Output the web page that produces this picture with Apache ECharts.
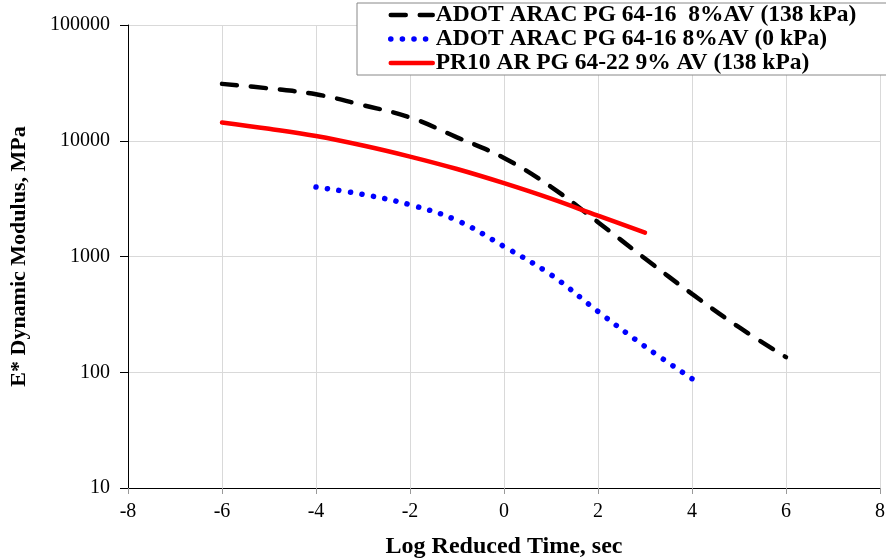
<!DOCTYPE html>
<html>
<head>
<meta charset="utf-8">
<script src="https://cdn.jsdelivr.net/npm/echarts@6/dist/echarts.min.js"></script>
<style>
html,body{margin:0;padding:0;background:#fff;}
#chart{width:886px;height:559px;}
</style>
</head>
<body>
<div id="chart"></div>
<script>
const seriesNames = [
  'ADOT ARAC PG 64-16  8%AV (138 kPa)',
  'ADOT ARAC PG 64-16 8%AV (0 kPa)',
  'PR10 AR PG 64-22 9% AV (138 kPa)'
];
const xBlack = [-6, -5, -4, -3, -2, -1, 0, 1, 2, 3, 4, 5, 6];
const yBlack = [31000, 28300, 25200, 20300, 15900, 10700, 7100, 4000, 1980, 960, 475, 245, 135];
const xBlue = [-4, -3, -2, -1, 0, 1, 2, 3, 4];
const yBlue = [3980, 3440, 2800, 2050, 1220, 695, 335, 167, 88];
const xRed = [-6, -5, -4, -3, -2, -1, 0, 1, 2, 3];
const yRed = [14400, 12700, 11000, 9100, 7300, 5700, 4300, 3160, 2250, 1610];
const yTicks = [10, 100, 1000, 10000, 100000];
const xTicks = [-8, -6, -4, -2, 0, 2, 4, 6, 8];

const pair = (xs, ys) => xs.map((x, i) => [x, ys[i]]);
const serif = '"Liberation Serif", "Times New Roman", serif';

const lineStyles = [
  {color: '#000', width: 4.5, type: [15, 14], cap: 'round'},
  {color: '#0000ff', width: 5.5, type: [0.1, 11.5], cap: 'round'},
  {color: '#ff0000', width: 4.5, type: 'solid', cap: 'round'}
];

const chart = echarts.init(document.getElementById('chart'), null, {renderer: 'canvas'});
chart.setOption({
  animation: false,
  backgroundColor: '#fff',
  grid: {left: 128, right: 6, top: 25, bottom: 71, containLabel: false, outerBoundsMode: 'none'},
  legend: {
    orient: 'vertical',
    left: 357,
    top: 3,
    itemGap: 0,
    itemWidth: 42,
    itemHeight: 14,
    padding: [0, 60, 0, 31],
    backgroundColor: '#fff',
    borderColor: '#888',
    borderWidth: 1,
    borderRadius: 0,
    itemStyle: {opacity: 0},
    textStyle: {fontFamily: serif, fontWeight: 'bold', fontSize: 23.5, lineHeight: 23.2, color: '#000', padding: [0, 0, 0, -2]},
    data: seriesNames.map((n, i) => ({name: n, lineStyle: lineStyles[i]}))
  },
  xAxis: {
    type: 'value',
    min: xTicks[0],
    max: xTicks[xTicks.length - 1],
    interval: 2,
    name: 'Log Reduced Time, sec',
    nameLocation: 'middle',
    nameGap: 47,
    nameTextStyle: {fontFamily: serif, fontWeight: 'bold', fontSize: 24, color: '#000'},
    axisLine: {show: true, onZero: false, lineStyle: {color: '#000', width: 1}},
    axisTick: {show: true, length: 6, lineStyle: {color: '#999'}},
    axisLabel: {fontFamily: serif, fontSize: 20, color: '#000', margin: 14},
    splitLine: {show: true, lineStyle: {color: '#d9d9d9', width: 1}}
  },
  yAxis: {
    type: 'log',
    logBase: 10,
    min: yTicks[0],
    max: yTicks[yTicks.length - 1],
    name: 'E* Dynamic Modulus, MPa',
    nameLocation: 'middle',
    nameGap: 98,
    nameRotate: 90,
    nameTextStyle: {fontFamily: serif, fontWeight: 'bold', fontSize: 22, color: '#000'},
    axisLine: {show: true, onZero: false, lineStyle: {color: '#000', width: 1}},
    axisTick: {show: true, length: 8, lineStyle: {color: '#000'}},
    axisLabel: {fontFamily: serif, fontSize: 20, color: '#000', margin: 18, formatter: v => String(Math.round(v))},
    minorTick: {show: false},
    splitLine: {show: true, lineStyle: {color: '#d9d9d9', width: 1}}
  },
  series: [
    {
      name: seriesNames[0], type: 'line', smooth: 0.4, symbol: 'none',
      data: pair(xBlack, yBlack),
      lineStyle: lineStyles[0],
      itemStyle: {color: '#000'}, z: 3
    },
    {
      name: seriesNames[1], type: 'line', smooth: 0.4, symbol: 'none',
      data: pair(xBlue, yBlue),
      lineStyle: lineStyles[1],
      itemStyle: {color: '#0000ff'}, z: 2
    },
    {
      name: seriesNames[2], type: 'line', smooth: 0.4, symbol: 'none',
      data: pair(xRed, yRed),
      lineStyle: lineStyles[2],
      itemStyle: {color: '#ff0000'}, z: 4
    }
  ]
});
</script>
</body>
</html>
